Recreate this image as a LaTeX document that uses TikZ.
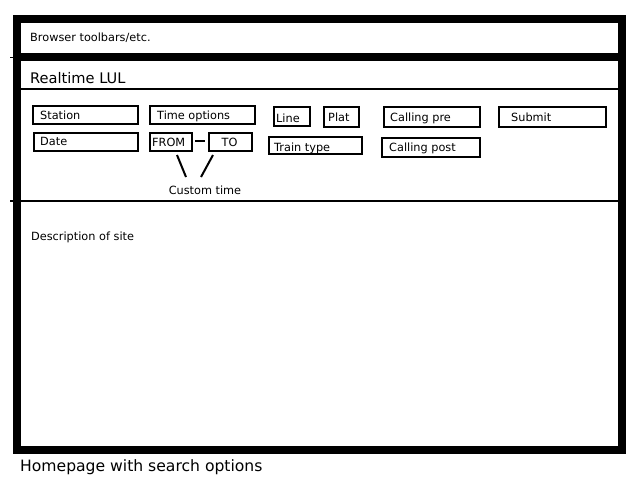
\documentclass[tikz,border=0pt]{standalone}
\usepackage{fontspec}
\setmainfont{DejaVu Sans}
\begin{document}
\begin{tikzpicture}[x=1pt,y=-1pt,
  frame/.style={line width=8pt},
  rule/.style={line width=2pt},
  fieldbox/.style={draw,line width=2pt,anchor=north west,inner sep=0pt},
  fieldtext/.style={anchor=west,inner sep=0pt,font=\fontsize{11.3}{13}\selectfont,
    text height=8.2pt,text depth=0pt},
  plain/.style={anchor=west,inner sep=0pt,font=\fontsize{11.3}{13}\selectfont},
  bigtext/.style={anchor=west,inner sep=0pt},
  pointer/.style={line width=2pt}]
% canvas
\fill[white] (0,0) rectangle (640,480);
\useasboundingbox (0,0) rectangle (640,480);

% browser window frame
\draw[frame] (17,19) rectangle (622,450);
\coordinate (bandL) at (13,57);
\coordinate (bandR) at (626,57);
\draw[frame] (bandL) -- (bandR);
\draw[line width=1pt] (10,57) -- (bandL);
\node[plain] (toolbars) at (30,38) {Browser toolbars/etc.};

% page header
\node[bigtext,font=\fontsize{14.6}{18}\selectfont] (title) at (30,78) {Realtime LUL};
\coordinate (hdrL) at (21,89);
\coordinate (hdrR) at (618,89);
\draw[rule] (hdrL) -- (hdrR);

% search form fields (yshift is on the page: negative moves text down)
\node[fieldbox,minimum width=105pt,minimum height=18pt] (station) at (32,105) {};
\node[fieldtext] at ([xshift=8pt]station.west) {Station};
\node[fieldbox,minimum width=104pt,minimum height=18pt] (date) at (33,132) {};
\node[fieldtext] at ([xshift=7pt,yshift=0.5pt]date.west) {Date};

\node[fieldbox,minimum width=105pt,minimum height=18pt] (timeopt) at (149,105) {};
\node[fieldtext] at ([xshift=8pt]timeopt.west) {Time options};
\node[fieldbox,minimum width=42pt,minimum height=18pt] (from) at (149,132) {};
\node[fieldtext] at ([xshift=3pt]from.west) {FROM};
\node[fieldbox,minimum width=43pt,minimum height=18pt] (to) at (208,132) {};
\node[fieldtext,anchor=center] at ([xshift=-1pt]to.center) {TO};
\draw[line width=2pt] ([xshift=2pt,yshift=1pt]from.east) coordinate (dashA)
  -- ([xshift=-3pt,yshift=1pt]to.west) coordinate (dashB);

\node[fieldbox,minimum width=36pt,minimum height=19pt] (line) at (273,106) {};
\node[fieldtext] at ([xshift=3pt,yshift=-1.5pt]line.west) {Line};
\node[fieldbox,minimum width=35pt,minimum height=20pt] (plat) at (323,106) {};
\node[fieldtext] at ([xshift=5pt]plat.west) {Plat};
\node[fieldbox,minimum width=93pt,minimum height=17pt] (train) at (268,136) {};
\node[fieldtext] at ([xshift=6pt,yshift=-1.5pt]train.west) {Train type};

\node[fieldbox,minimum width=96pt,minimum height=20pt] (callpre) at (383,106) {};
\node[fieldtext] at ([xshift=7pt]callpre.west) {Calling pre};
\node[fieldbox,minimum width=98pt,minimum height=19pt] (callpost) at (381,137) {};
\node[fieldtext] at ([xshift=8pt]callpost.west) {Calling post};

\node[fieldbox,minimum width=107pt,minimum height=20pt] (submit) at (498,106) {};
\node[fieldtext] at ([xshift=13pt]submit.west) {Submit};

% custom time annotation
\node[inner sep=0pt,font=\fontsize{11.3}{13}\selectfont] (custom) at (205,190) {Custom time};
\coordinate (fromTip) at (177,155);
\coordinate (fromEnd) at (186,177);
\coordinate (toTip) at (213,155);
\coordinate (toEnd) at (201,177);
\draw[pointer] (fromTip) -- (fromEnd);
\draw[pointer] (toTip) -- (toEnd);

% content area
\coordinate (bodyL) at (10,201);
\coordinate (bodyR) at (618,201);
\draw[rule] (bodyL) -- (bodyR);
\node[plain] (desc) at (31,237) {Description of site};

% caption
\node[bigtext,font=\fontsize{15.6}{18}\selectfont] (caption) at (20,467) {Homepage with search options};
\end{tikzpicture}
\end{document}
